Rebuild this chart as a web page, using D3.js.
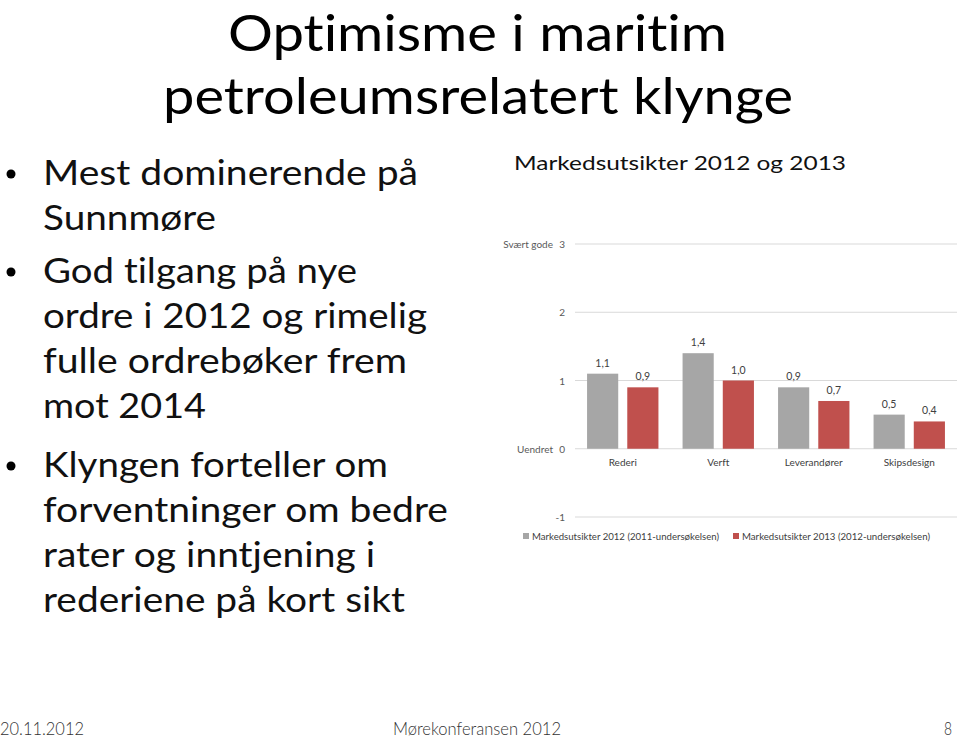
<!DOCTYPE html>
<html><head><meta charset="utf-8">
<script src="https://cdn.jsdelivr.net/npm/d3@7"></script>
<style>body{margin:0;background:#fff}svg{display:block}text{font-variant-ligatures:none;font-feature-settings:"liga" 0,"clig" 0}</style>
</head><body>
<svg id="c" width="960" height="738"></svg>
<script>
const categories = ["Rederi", "Verft", "Leverandører", "Skipsdesign"];
const seriesNames = ["Markedsutsikter 2012 (2011-undersøkelsen)", "Markedsutsikter 2013 (2012-undersøkelsen)"];
const values2012 = [1.1, 1.4, 0.9, 0.5];
const values2013 = [0.9, 1.0, 0.7, 0.4];
const yTicks = [-1, 0, 1, 2, 3];
const yTickNames = {3: "Svært gode", 0: "Uendret"};
const titleLines = ["Optimisme i maritim", "petroleumsrelatert klynge"];
const bullets = [
  ["Mest dominerende på", "Sunnmøre"],
  ["God tilgang på nye", "ordre i 2012 og rimelig", "fulle ordrebøker frem", "mot 2014"],
  ["Klyngen forteller om", "forventninger om bedre", "rater og inntjening i", "rederiene på kort sikt"]
];
const chartTitle = "Markedsutsikter 2012 og 2013";
const footer = ["20.11.2012", "Mørekonferansen 2012", "8"];

const colors = ["#a6a6a6", "#c0504d"];
const font = "Lato, 'Open Sans', sans-serif";
const svg = d3.select("#c");

function fitText(sel, w) { sel.attr("textLength", w).attr("lengthAdjust", "spacingAndGlyphs"); }

// Title
const titleY = [51, 114], titleX = [228, 163], titleW = [499, 630];
titleLines.forEach((t, i) => {
  svg.append("text").attr("x", titleX[i]).attr("y", titleY[i])
    .attr("font-family", font).attr("font-size", 51).attr("fill", "#000")
    .text(t).call(fitText, titleW[i]);
});

// Bullets
const lineBase = [[185, 230], [283, 328, 373, 418], [477, 522, 567, 612]];
const lineW = [[375, 173], [314, 384, 364, 163], [345, 405, 332, 362]];
bullets.forEach((b, bi) => {
  svg.append("circle").attr("cx", 11).attr("cy", lineBase[bi][0] - 11).attr("r", 4.5).attr("fill", "#000");
  b.forEach((l, li) => {
    svg.append("text").attr("x", 43).attr("y", lineBase[bi][li])
      .attr("font-family", font).attr("font-size", 35).attr("fill", "#111")
      .text(l).call(fitText, lineW[bi][li]);
  });
});

// Chart title
svg.append("text").attr("x", 514).attr("y", 170).attr("font-family", font).attr("font-size", 20)
  .attr("fill", "#111").text(chartTitle).call(fitText, 332);

// Chart
const y = d3.scaleLinear().domain([-1, 3]).range([517, 244]);
const x0 = d3.scaleBand().domain(categories).range([575, 957]);
const x1 = d3.scaleBand().domain([0, 1]).range([0, x0.bandwidth()]).paddingInner(0.225).paddingOuter(0.3);

const g = svg.append("g");
g.selectAll("line.grid").data(yTicks).join("line")
  .attr("x1", 575).attr("x2", 957).attr("y1", d => y(d)).attr("y2", d => y(d))
  .attr("stroke", "#d9d9d9").attr("stroke-width", 1);

const yAxis = d3.axisLeft(y).tickValues(yTicks).tickSize(0).tickPadding(0).tickFormat(d => String(d));
const ya = g.append("g").attr("transform", "translate(565,0)").call(yAxis);
ya.select(".domain").remove();
ya.selectAll("text").attr("font-family", font).attr("font-size", 10).attr("fill", "#595959").attr("dy", "0.35em");
ya.selectAll(".tick").each(function(d) {
  if (yTickNames[d]) {
    d3.select(this).append("text").attr("x", -12).attr("dy", "0.35em").attr("text-anchor", "end")
      .attr("font-family", font).attr("font-size", 10).attr("fill", "#595959").text(yTickNames[d]);
  }
});

const data = categories.map((c, i) => ({c, v: [values2012[i], values2013[i]]}));
const grp = g.selectAll("g.cat").data(data).join("g").attr("transform", d => `translate(${x0(d.c)},0)`);
grp.selectAll("rect").data(d => d.v.map((v, s) => ({v, s}))).join("rect")
  .attr("x", d => x1(d.s)).attr("width", x1.bandwidth())
  .attr("y", d => y(Math.max(0, d.v))).attr("height", d => Math.abs(y(d.v) - y(0)))
  .attr("fill", d => colors[d.s]);
grp.selectAll("text.lbl").data(d => d.v.map((v, s) => ({v, s}))).join("text")
  .attr("x", d => x1(d.s) + x1.bandwidth() / 2).attr("y", d => y(d.v) - 7)
  .attr("text-anchor", "middle").attr("font-family", font).attr("font-size", 10.5).attr("fill", "#404040")
  .text(d => d.v.toFixed(1).replace(".", ","));

const xAxis = d3.axisBottom(x0).tickSize(0).tickPadding(0);
const xa = g.append("g").attr("transform", "translate(0,459)").call(xAxis);
xa.select(".domain").remove();
xa.selectAll("text").attr("font-family", font).attr("font-size", 10).attr("fill", "#404040").attr("dy", "0.71em");

// Legend
const legX = [523, 733], legW = [187, 188];
seriesNames.forEach((n, i) => {
  svg.append("rect").attr("x", legX[i]).attr("y", 533).attr("width", 6).attr("height", 6).attr("fill", colors[i]);
  svg.append("text").attr("x", legX[i] + 9).attr("y", 540).attr("font-family", font).attr("font-size", 10)
    .attr("fill", "#404040").text(n).call(fitText, legW[i]);
});

// Footer
const footX = [0, 393, 944], footW = [84, 168, 8];
footer.forEach((t, i) => {
  svg.append("text").attr("x", footX[i]).attr("y", 735).attr("font-family", font).attr("font-size", 18)
    .attr("font-weight", 300).attr("fill", "#333").text(t).call(fitText, footW[i]);
});
</script>
</body></html>
